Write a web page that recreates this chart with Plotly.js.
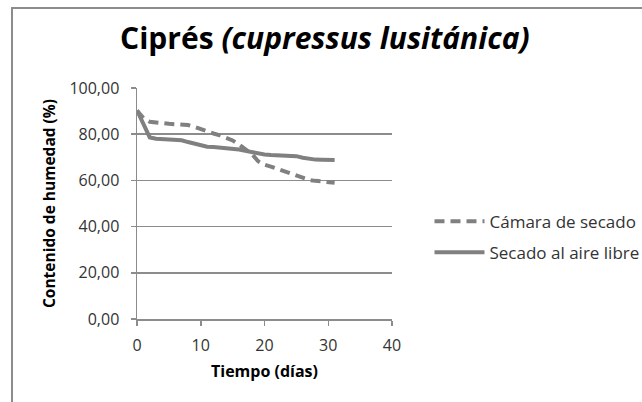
<!DOCTYPE html>
<html>
<head>
<meta charset="utf-8">
<script src="https://cdn.plot.ly/plotly-3.0.1.min.js"></script>
<style>
  html, body { margin: 0; padding: 0; background: #fff; }
  #wrap { position: relative; width: 642px; height: 402px; overflow: hidden; }
  #frame { position: absolute; left: 11px; top: 7px; width: 700px; height: 500px;
           border-left: 2px solid #8c8c8c; border-top: 2px solid #8c8c8c; box-sizing: border-box; pointer-events: none; }
  #chart { position: absolute; left: 0; top: 0; width: 642px; height: 402px; }
</style>
</head>
<body>
<div id="wrap">
  <div id="chart"></div>
  <div id="frame"></div>
</div>
<script>
const days = [0,1,2,3,4,5,6,7,8,9,10,11,12,13,14,15,16,17,18,19,20,21,22,23,24,25,26,27,28,29,30,31];
const camaraSecado = [90.3,87.0,85.4,85.0,84.7,84.5,84.3,84.2,84.0,83.2,82.2,81.0,80.3,79.5,78.4,77.3,75.5,73.6,71.5,68.3,66.8,66.0,65.0,64.0,63.0,62.0,60.9,60.2,59.8,59.5,59.2,59.0];
const aireLibre = [90.3,84.0,78.6,78.0,77.8,77.7,77.6,77.4,76.6,76.0,75.2,74.6,74.5,74.3,73.9,73.6,73.4,72.8,72.2,71.6,71.2,71.0,70.8,70.7,70.7,70.5,69.8,69.2,69.0,68.9,68.9,68.8];
const seriesNames = ["Cámara de secado", "Secado al aire libre"];
const xTicks = [0,10,20,30,40];
const yTicks = [0,20,40,60,80,100];

const FONT = "'Open Sans', 'Liberation Sans', sans-serif";
const GRAY = "#808080";
const GRID = "#8c8c8c";

const traces = [
  { x: days, y: camaraSecado, name: seriesNames[0], type: "scatter", mode: "lines",
    legendgroup: "a",
    line: { color: GRAY, width: 4, dash: "10px,6px" } },
  { x: days, y: aireLibre, name: seriesNames[1], type: "scatter", mode: "lines",
    legendgroup: "b",
    line: { color: GRAY, width: 4 } }
];

const layout = {
  width: 642, height: 402,
  margin: { l: 137, r: 250, t: 88, b: 83, pad: 0 },
  paper_bgcolor: "rgba(0,0,0,0)",
  plot_bgcolor: "rgba(0,0,0,0)",
  separators: ",.",
  font: { family: FONT, size: 16, color: "#333333" },
  title: {
    text: "Ciprés <i>(cupressus lusitánica)</i>",
    font: { family: FONT, size: 30, color: "#000000", weight: 700 },
    x: 0.506, xanchor: "center", xref: "container",
    y: 0.905, yanchor: "middle", yref: "container"
  },
  showlegend: true,
  legend: {
    xref: "container", yref: "container",
    x: 0.669, xanchor: "left",
    y: 0.41, yanchor: "middle",
    font: { family: FONT, size: 17, color: "#333333" },
    itemwidth: 50,
    tracegroupgap: 6,
    traceorder: "grouped",
    bgcolor: "rgba(0,0,0,0)"
  },
  xaxis: {
    range: [0, 40],
    tickvals: xTicks,
    ticks: "outside", ticklen: 5, tickwidth: 1.5, tickcolor: GRID,
    showline: true, linecolor: GRID, linewidth: 1.5,
    showgrid: false, zeroline: false,
    tickfont: { family: FONT, size: 16, color: "#333333" },
    ticklabelstandoff: 6,
    title: { text: "Tiempo (días)", font: { family: FONT, size: 16, color: "#000000", weight: 700 }, standoff: 11 },
    fixedrange: true
  },
  yaxis: {
    range: [0, 100],
    tickvals: yTicks,
    tickformat: ".2f",
    ticks: "outside", ticklen: 5, tickwidth: 1.5, tickcolor: GRID,
    showline: true, linecolor: GRID, linewidth: 1.5,
    showgrid: true, gridcolor: GRID, gridwidth: 1.5,
    zeroline: false,
    tickfont: { family: FONT, size: 16, color: "#333333" },
    ticklabelstandoff: 8,
    title: { text: "Contenido de humedad (%)", font: { family: FONT, size: 15.5, color: "#000000", weight: 700 }, standoff: 10 },
    fixedrange: true
  }
};

Plotly.newPlot("chart", traces, layout, { displayModeBar: false, staticPlot: true });
</script>
</body>
</html>
